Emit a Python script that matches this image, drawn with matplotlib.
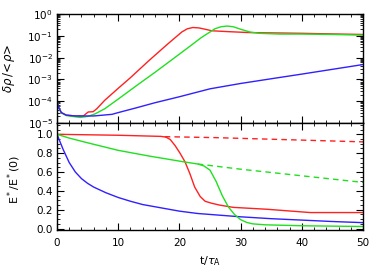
import numpy as np
import matplotlib
matplotlib.use("Agg")
import matplotlib.pyplot as plt
from matplotlib.ticker import MultipleLocator, LogLocator, NullFormatter

# ---------------- data ----------------
# top panel: delta rho / <rho>
t_blue_top = [0, 0.3, 0.7, 1.5, 3, 6, 9, 10, 13, 16, 20, 25, 30, 35, 40, 45, 50]
v_blue_top = [1e-4, 5e-5, 3e-5, 2.3e-5, 2.1e-5, 2.1e-5, 2.5e-5, 3e-5, 5e-5, 8.5e-5,
              1.6e-4, 3.7e-4, 6.5e-4, 1.07e-3, 1.75e-3, 2.9e-3, 4.8e-3]

t_red_top = [0, 0.3, 0.7, 1.5, 3, 4.3, 5.1, 5.9, 6.5, 7.8, 10, 12, 15, 18, 20.4, 21.3,
             22.2, 23.2, 24.2, 25.3, 28, 31.5, 36, 40, 45, 50]
v_red_top = [1e-4, 5e-5, 3e-5, 2.3e-5, 2.1e-5, 2.1e-5, 3.2e-5, 3.3e-5, 4.5e-5, 1.1e-4,
             3.9e-4, 1.2e-3, 7.2e-3, 4e-2, 0.15, 0.21, 0.24, 0.23, 0.2, 0.17, 0.155, 0.14,
             0.135, 0.13, 0.122, 0.115]

t_green_top = [0, 0.3, 0.7, 1.5, 2.5, 3.8, 5, 6.2, 7.8, 10, 13, 16, 19, 22, 23.5, 25.8,
               26.8, 27.8, 28.8, 30, 31.5, 33, 36.4, 40, 45, 50]
v_green_top = [1e-4, 5e-5, 3e-5, 2.2e-5, 2e-5, 1.8e-5, 2e-5, 2.6e-5, 4.5e-5, 1.25e-4,
               5.2e-4, 2.1e-3, 8.9e-3, 3.8e-2, 0.08, 0.21, 0.26, 0.28, 0.26, 0.2, 0.15, 0.13,
               0.12, 0.12, 0.115, 0.107]

# bottom panel: E*/E*(0)
t_blue_bot = [0, 0.5, 1, 2, 3, 4, 5, 6, 8, 10, 12, 14, 17, 20, 23, 26, 30, 35, 40, 45, 50]
v_blue_bot = [1.0, 0.92, 0.84, 0.70, 0.60, 0.53, 0.48, 0.44, 0.38, 0.33, 0.29, 0.255,
              0.22, 0.185, 0.16, 0.145, 0.125, 0.105, 0.09, 0.075, 0.063]

t_red_bot = [0, 10, 17.0, 17.8, 18.5, 19.3, 20.1, 20.9, 21.7, 22.5, 23.4, 24.2, 25.2, 26.5,
             28.8, 34.3, 41.4, 45, 50]
v_red_bot = [1.0, 0.99, 0.978, 0.97, 0.945, 0.88, 0.80, 0.71, 0.585, 0.44, 0.34, 0.29, 0.27,
             0.25, 0.225, 0.205, 0.17, 0.17, 0.17]

t_red_dash = [17.6, 25.8, 50]
v_red_dash = [0.975, 0.965, 0.92]

t_green_bot = [0, 2, 5, 10, 15, 21, 22, 23, 24, 25, 26, 27, 28, 29, 30, 31, 32, 34, 40, 50]
v_green_bot = [1.0, 0.96, 0.91, 0.83, 0.77, 0.705, 0.695, 0.685, 0.665, 0.62, 0.50,
               0.35, 0.23, 0.15, 0.095, 0.065, 0.05, 0.04, 0.03, 0.022]

t_green_dash = [23, 30, 40, 50]
v_green_dash = [0.685, 0.63, 0.56, 0.49]

xticks = [0, 10, 20, 30, 40, 50]
yticks_bot = [0.0, 0.2, 0.4, 0.6, 0.8, 1.0]

# ---------------- figure ----------------
plt.rcParams['font.family'] = ['DejaVu Sans']
plt.rcParams['font.size'] = 7.5

fig = plt.figure(figsize=(3.82, 2.73), dpi=100)
L, R = 57 / 382, 363 / 382
y_top, y_mid, y_bot = 1 - 14 / 273, 1 - 123 / 273, 1 - 230 / 273
ax1 = fig.add_axes([L, y_mid, R - L, y_top - y_mid])
ax2 = fig.add_axes([L, y_bot, R - L, y_mid - y_bot], sharex=ax1)

RED, GREEN, BLUE = '#ff2020', '#20e020', '#3020ff'
lw = 1.0

ax1.plot(t_red_top, v_red_top, color=RED, lw=lw)
ax1.plot(t_green_top, v_green_top, color=GREEN, lw=lw)
ax1.plot(t_blue_top, v_blue_top, color=BLUE, lw=lw)
ax1.set_yscale('log')
ax1.set_ylim(1e-5, 1)
ax1.set_xlim(0, 50)
ax1.yaxis.set_major_locator(LogLocator(base=10, numticks=10))
ax1.yaxis.set_minor_locator(LogLocator(base=10, subs=np.arange(2, 10), numticks=20))
ax1.yaxis.set_minor_formatter(NullFormatter())
ax1.tick_params(labelbottom=False)
ax1.set_ylabel(r'$\delta\rho\,/\!<\!\rho\!>$', fontsize=8.5)

ax2.plot(t_blue_bot, v_blue_bot, color=BLUE, lw=lw)
ax2.plot(t_red_dash, v_red_dash, color=RED, lw=lw, ls=(0, (4, 3)))
ax2.plot(t_red_bot, v_red_bot, color=RED, lw=lw)
ax2.plot(t_green_dash, v_green_dash, color=GREEN, lw=lw, ls=(0, (4, 3)))
ax2.plot(t_green_bot, v_green_bot, color=GREEN, lw=lw)
ax2.set_ylim(-0.015, 1.12)
ax2.set_xlim(0, 50)
ax2.set_yticks(yticks_bot)
ax2.set_yticklabels(['%.1f' % v for v in yticks_bot])
ax2.yaxis.set_minor_locator(MultipleLocator(0.05))
ax2.set_xticks(xticks)
ax2.set_xticklabels([str(v) for v in xticks])
ax2.set_ylabel('E$^*$/E$^*$(0)', fontsize=8)
ax2.set_xlabel(r't/$\tau_{\rm A}$', labelpad=4, fontsize=8)

for ax in (ax1, ax2):
    ax.xaxis.set_minor_locator(MultipleLocator(2))
    ax.tick_params(which='both', direction='in', top=True, right=True, colors='black')
    ax.tick_params(which='major', length=5, width=0.8, pad=3)
    ax.tick_params(which='minor', length=2.5, width=0.6)
    for s in ax.spines.values():
        s.set_linewidth(1.0)
ax2.tick_params(axis='x', which='major', pad=6)

ax1.yaxis.set_label_coords(-0.13, 0.5)
ax2.yaxis.set_label_coords(-0.11, 0.47)

fig.savefig('out.png', dpi=100)
